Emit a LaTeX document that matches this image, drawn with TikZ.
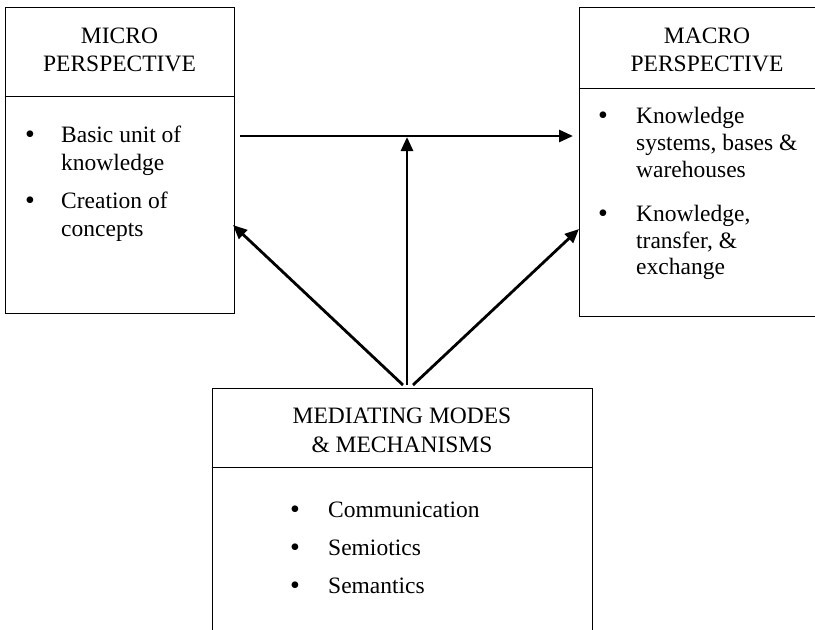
\documentclass[tikz,border=0pt]{standalone}
\usepackage{fontspec}
\setmainfont{Liberation Serif}
\usetikzlibrary{arrows.meta}
\begin{document}
\begin{tikzpicture}[x=1pt,y=-1pt,
  panel/.style={draw=black,line width=1pt,fill=white,inner sep=0pt},
  txt/.style={anchor=base,inner sep=0pt,font=\fontsize{23.5}{28}\selectfont},
  itemtxt/.style={anchor=base west,inner sep=0pt,font=\fontsize{23.5}{28}\selectfont},
  dot/.style={anchor=base,inner sep=0pt,yshift=-1.5pt,font=\fontsize{28}{28}\selectfont},
  link/.style={line width=2.8pt,-{Triangle[length=14pt,width=12pt]}}]
\useasboundingbox (0,0) rectangle (815,630);
\clip (0,0) rectangle (815,630);

% panels
\node[panel,minimum width=229pt,minimum height=306pt] (micro) at (119.5,160) {};
\draw[line width=1pt] (micro.west |- 0,96) -- (micro.east |- 0,96);
\node[panel,minimum width=256pt,minimum height=309pt] (macro) at (707,161.5) {};
\draw[line width=1pt] (macro.west |- 0,88) -- (macro.east |- 0,88);
\node[panel,minimum width=380pt,minimum height=262pt] (medi) at (402,519) {};
\draw[line width=1pt] (medi.west |- 0,467) -- (medi.east |- 0,467);

% headings
\node[txt] (mi1) at (119.5,43) {MICRO};
\node[txt] (mi2) at (119.5,71) {PERSPECTIVE};
\node[txt] (ma1) at (707,43) {MACRO};
\node[txt] (ma2) at (707,71) {PERSPECTIVE};
\node[txt] (me1) at (402,423) {MEDIATING MODES};
\node[txt] (me2) at (402,452) {\& MECHANISMS};

% micro items
\node[dot] (bm1) at (30,142) {•};
\node[itemtxt] (tm1) at (61,142) {Basic unit of};
\node[itemtxt] (tm2) at (61,170) {knowledge};
\node[dot] (bm2) at (30,208) {•};
\node[itemtxt] (tm3) at (61,208) {Creation of};
\node[itemtxt] (tm4) at (61,236) {concepts};

% macro items
\node[dot] (bM1) at (603,123) {•};
\node[itemtxt] (tM1) at (636,123) {Knowledge};
\node[itemtxt] (tM2) at (636,150) {systems, bases \&};
\node[itemtxt] (tM3) at (636,177) {warehouses};
\node[dot] (bM2) at (603,221) {•};
\node[itemtxt] (tM4) at (636,221) {Knowledge,};
\node[itemtxt] (tM5) at (636,248) {transfer, \&};
\node[itemtxt] (tM6) at (636,274) {exchange};

% mediating items
\node[dot] (bd1) at (295,517) {•};
\node[itemtxt] (td1) at (328,517) {Communication};
\node[dot] (bd2) at (295,555) {•};
\node[itemtxt] (td2) at (328,555) {Semiotics};
\node[dot] (bd3) at (295,593) {•};
\node[itemtxt] (td3) at (328,593) {Semantics};

% connector end points
\coordinate (hs) at (240,136);
\coordinate (he) at (573,136);
\coordinate (vs) at (407,385);
\coordinate (ve) at (407,137);
\coordinate (ls) at (403,385);
\coordinate (le) at (233,225);
\coordinate (rs) at (413,385);
\coordinate (re) at (579,229);

\draw[link] (hs) -- (he);
\draw[link] (vs) -- (ve);
\draw[link] (ls) -- (le);
\draw[link] (rs) -- (re);
\end{tikzpicture}
\end{document}
